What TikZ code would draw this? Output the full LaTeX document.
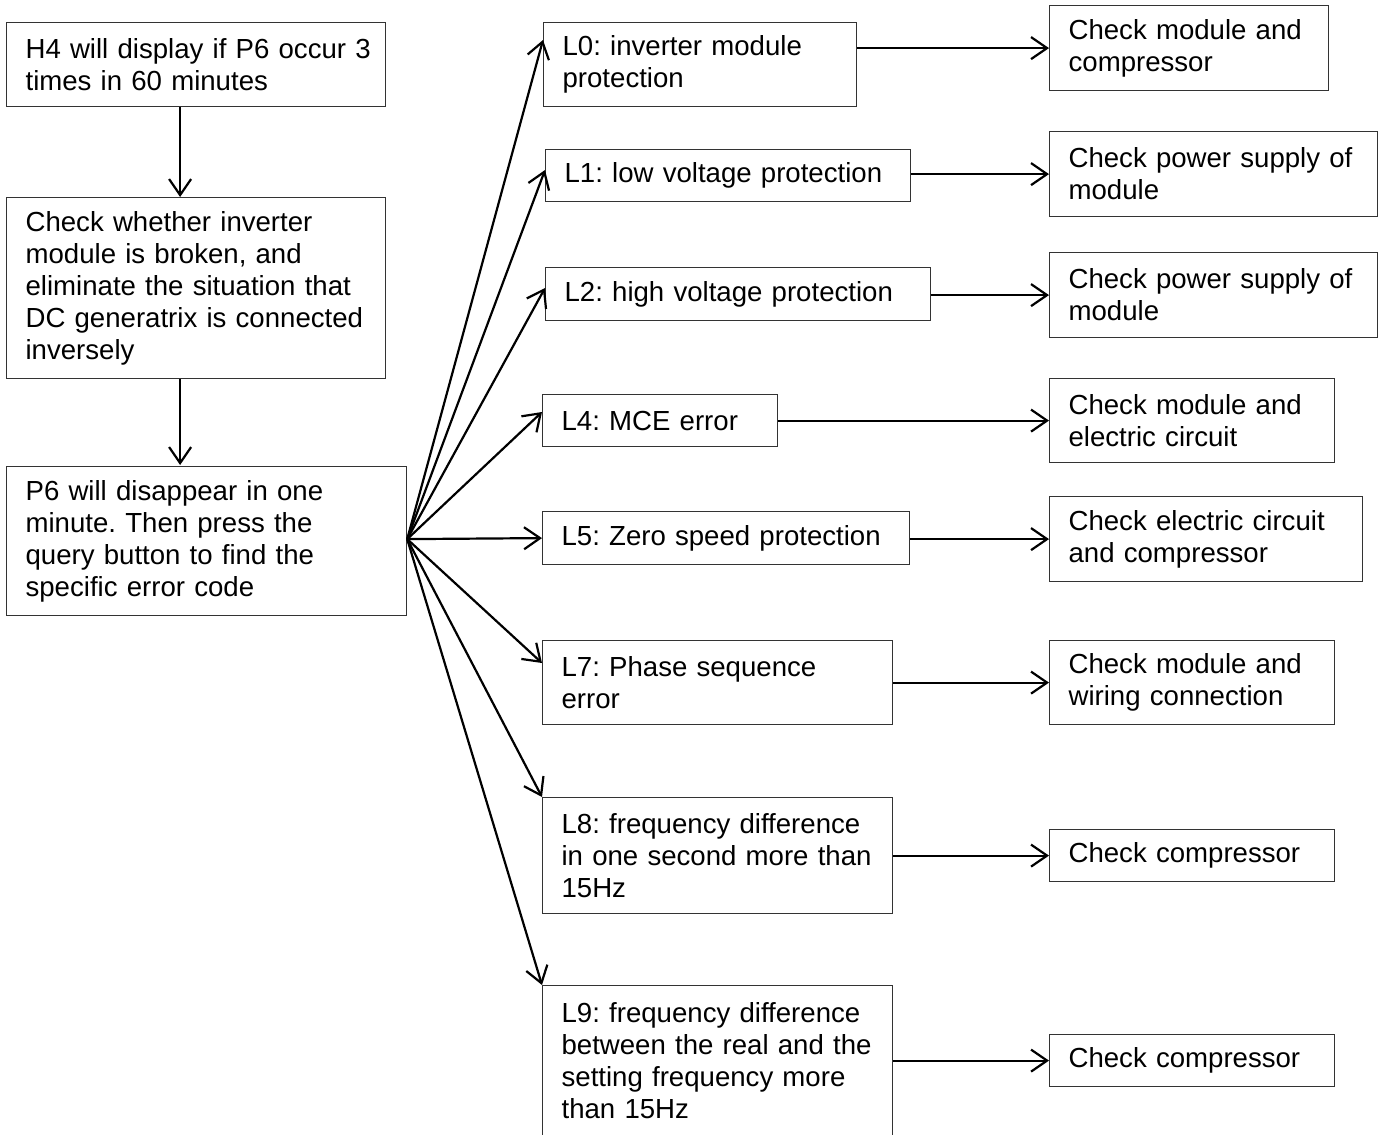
\documentclass[tikz,border=0pt]{standalone}
\usepackage{fontspec}
\setmainfont{Liberation Sans}
\usetikzlibrary{arrows.meta}
\frenchspacing
\hyphenpenalty=10000
\exhyphenpenalty=10000

\begin{document}
\begin{tikzpicture}[x=1bp,y=-1bp,
  flowbox/.style={draw=black!80,line width=1.2bp,anchor=north west,align=left,
    inner xsep=19bp,inner ysep=0bp,font=\fontsize{27.6bp}{32bp}\selectfont},
  arr/.style={line width=2.2bp,-{Straight Barb[length=16bp,width=22bp]}}]
\path[use as bounding box] (0,0) rectangle (1384,1134);
% left column
\node[flowbox,text width=341bp,minimum height=84bp] (h4) at (6,22) {\mbox{H4 will display if P6 occur 3}\\times in 60 minutes};
\node[flowbox,text width=341bp,minimum height=181bp] (chk) at (6,197) {Check whether inverter\\module is broken, and\\eliminate the situation that\\DC generatrix is connected\\inversely};
\node[flowbox,text width=362bp,minimum height=149bp] (p6) at (6,466) {P6 will disappear in one\\minute. Then press the\\query button to find the\\specific error code};
% error codes
\node[flowbox,text width=275bp,minimum height=84bp] (l0) at (543,22) {L0: inverter module\\protection};
\node[flowbox,text width=327bp,minimum height=52bp] (l1) at (545,149) {L1: low voltage protection};
\node[flowbox,text width=347bp,minimum height=53bp] (l2) at (545,267) {L2: high voltage protection};
\node[flowbox,text width=197bp,minimum height=52bp] (l4) at (542,394) {L4: MCE error};
\node[flowbox,text width=329bp,minimum height=53bp] (l5) at (542,511) {L5: Zero speed protection};
\node[flowbox,text width=312bp,minimum height=84bp] (l7) at (542,640) {L7: Phase sequence\\error};
\node[flowbox,text width=312bp,minimum height=116bp] (l8) at (542,797) {L8: frequency difference\\in one second more than\\15Hz};
\node[flowbox,text width=312bp,minimum height=150bp] (l9) at (542,985) {L9: frequency difference\\between the real and the\\setting frequency more\\than 15Hz};
% checks
\node[flowbox,text width=241bp,minimum height=85bp] (r0) at (1049,5) {Check module and\\compressor};
\node[flowbox,text width=290bp,minimum height=85bp] (r1) at (1049,131) {Check power supply of\\module};
\node[flowbox,text width=290bp,minimum height=85bp] (r2) at (1049,252) {Check power supply of\\module};
\node[flowbox,text width=247bp,minimum height=84bp] (r4) at (1049,378) {Check module and\\electric circuit};
\node[flowbox,text width=275bp,minimum height=85bp] (r5) at (1049,496) {Check electric circuit\\and compressor};
\node[flowbox,text width=247bp,minimum height=84bp] (r7) at (1049,640) {Check module and\\wiring connection};
\node[flowbox,text width=247bp,minimum height=52bp] (r8) at (1049,829) {Check compressor};
\node[flowbox,text width=247bp,minimum height=52bp] (r9) at (1049,1034) {Check compressor};
% down the left
\draw[arr] ([xshift=-16bp]h4.south) -- ([xshift=-16bp]chk.north);
\draw[arr] ([xshift=-16bp]chk.south) -- ([xshift=-16bp,yshift=1bp]chk.south |- p6.north);
% fan out
\coordinate (fan) at ([yshift=2bp]p6.east);
\draw[arr] (fan) -- ([yshift=-18bp]l0.north west);
\draw[arr] (fan) -- ([yshift=-21bp]l1.north west);
\draw[arr] (fan) -- ([yshift=-21bp]l2.north west);
\draw[arr] (fan) -- ([yshift=-18bp]l4.north west);
\draw[arr] (fan) -- (l5.west);
\draw[arr] (fan) -- ([yshift=-23bp]l7.north west);
\draw[arr] (fan) -- (l8.north west);
\draw[arr] (fan) -- (l9.north west);
% across
\draw[arr] (l0.east |- r0.west) -- (r0.west);
\draw[arr] (l1.east |- r1.west) -- (r1.west);
\draw[arr] (l2.east |- r2.west) -- (r2.west);
\draw[arr] (l4.east |- r4.west) -- (r4.west);
\draw[arr] (l5.east |- r5.west) -- (r5.west);
\draw[arr] (l7.east |- r7.west) -- (r7.west);
\draw[arr] (l8.east |- r8.west) -- (r8.west);
\draw[arr] (l9.east |- r9.west) -- (r9.west);
\end{tikzpicture}
\end{document}
